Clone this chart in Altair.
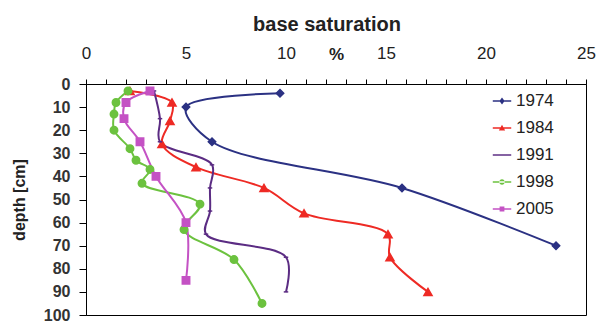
import altair as alt
import pandas as pd

years = ["1974", "1984", "1991", "1998", "2005"]
colors = ["#2b3183", "#ee2a24", "#5b2c83", "#6cc23f", "#c452c4"]

bs_1974 = [9.7, 5.0, 6.3, 15.8, 23.5]
d_1974 = [4, 10, 25, 45, 70]
bs_1984 = [2.2, 4.3, 4.2, 3.8, 5.5, 8.9, 10.9, 15.1, 15.2, 17.1]
d_1984 = [3, 8, 16, 26, 36, 45, 56, 65, 75, 90]
bs_1991 = [3.4, 3.7, 3.7, 6.3, 6.2, 6.2, 6.0, 10.0, 10.0]
d_1991 = [3, 15, 25, 35, 45, 55, 65, 75, 90]
bs_1998 = [2.1, 1.5, 1.4, 1.4, 2.2, 2.5, 3.2, 2.8, 5.7, 4.9, 7.4, 8.8]
d_1998 = [3, 8, 13, 20, 28, 33, 37, 43, 52, 63, 76, 95]
bs_2005 = [3.2, 2.0, 1.9, 2.7, 3.5, 5.0, 5.0]
d_2005 = [3, 8, 15, 25, 40, 60, 85]

x_ticks = list(range(0, 26))          # minor ticks every 1, labels every 5
y_ticks = list(range(0, 101, 10))

series = {
    "1974": (bs_1974, d_1974),
    "1984": (bs_1984, d_1984),
    "1991": (bs_1991, d_1991),
    "1998": (bs_1998, d_1998),
    "2005": (bs_2005, d_2005),
}
rows = []
for yr, (xs, ds) in series.items():
    for xv, dv in zip(xs, ds):
        rows.append({"year": yr, "bs": xv, "depth": dv})
df = pd.DataFrame(rows)

FONT = "Liberation Sans"

bar = "M-1,-0.08L1,-0.08L1,0.08L-1,0.08Z"
diamond = "M0,-0.38L0.28,0L0,0.38L-0.28,0Z"
triangle = "M0,-0.36L0.34,0.26L-0.34,0.26Z"
circle = "M-0.3,0A0.3,0.3 0 1,0 0.3,0A0.3,0.3 0 1,0 -0.3,0Z"
square = "M-0.26,-0.26L0.26,-0.26L0.26,0.26L-0.26,0.26Z"
legend_paths = [bar + diamond, bar + triangle, bar, bar + circle, bar + square]
marker_shapes = ["diamond", "triangle-up", "M-1,0L1,0", "circle", "square"]
marker_sizes = [55, 65, 20, 55, 55]

xscale = alt.Scale(domain=[0, 25], nice=False)
yscale = alt.Scale(domain=[0, 100], reverse=True, nice=False)

ax_x = alt.Axis(orient="top", values=x_ticks, grid=False, domain=True,
                labelExpr="datum.value % 5 === 0 ? datum.label : ''",
                labelFont=FONT, labelFontSize=17, labelColor="#222", labelFlush=False,
                labelOverlap=False, tickSize=5, tickColor="black",
                labelPadding=17, domainColor="black", domainWidth=1,
                title="%", titleFont=FONT, titleFontSize=17, titleFontWeight="bold",
                titleColor="#222", titleY=-25, titleX=250, titleBaseline="alphabetic")
ax_y = alt.Axis(values=y_ticks, grid=False, domain=True, labelOverlap=False,
                labelFont=FONT, labelFontSize=16, labelFontWeight="bold",
                labelColor="#333", labelPadding=9, domainColor="black",
                tickSize=7, tickColor="black",
                title="depth [cm]", titleFont=FONT, titleFontSize=16,
                titleFontWeight="bold", titleColor="#222", titleX=-59)

X = alt.X("bs:Q", scale=xscale, axis=ax_x)
Y = alt.Y("depth:Q", scale=yscale, axis=ax_y)

base = alt.Chart(df)

layers = []
for yr, col in zip(years, colors):
    layers.append(
        base.transform_filter(alt.datum.year == yr)
        .mark_line(interpolate="catmull-rom", strokeWidth=2, color=col)
        .encode(x=X, y=Y, order="depth:Q")
    )
for yr, col, shp, sz in zip(years, colors, marker_shapes, marker_sizes):
    layers.append(
        base.transform_filter(alt.datum.year == yr)
        .mark_point(filled=True, shape=shp, size=sz, color=col, stroke=col,
                    strokeWidth=1.5, opacity=1)
        .encode(x=X, y=Y)
    )

legend_layer = base.mark_point(filled=True, opacity=1, size=0).encode(
    x=X, y=Y,
    color=alt.Color("year:N", scale=alt.Scale(domain=years, range=colors),
                    legend=alt.Legend(title=None, orient="none", legendX=406, legendY=7,
                                      symbolSize=340, labelFont=FONT, labelFontSize=17,
                                      labelColor="#222", rowPadding=9, padding=0,
                                      labelOffset=4, symbolOpacity=1)),
    shape=alt.Shape("year:N", scale=alt.Scale(domain=years, range=legend_paths)),
)
layers.append(legend_layer)

chart = alt.layer(*layers).properties(
    width=500, height=231,
    padding={"left": 86, "top": 84, "right": 11, "bottom": 6},
    autosize="none",
    background="white",
    title=alt.TitleParams("base saturation", font=FONT, fontSize=20, fontWeight="bold",
                          color="#222", anchor="middle", frame="group", offset=9, dx=-9),
).configure_view(stroke="black", strokeWidth=1)

chart.save("out.html", embed_options={"renderer": "svg", "actions": False})
